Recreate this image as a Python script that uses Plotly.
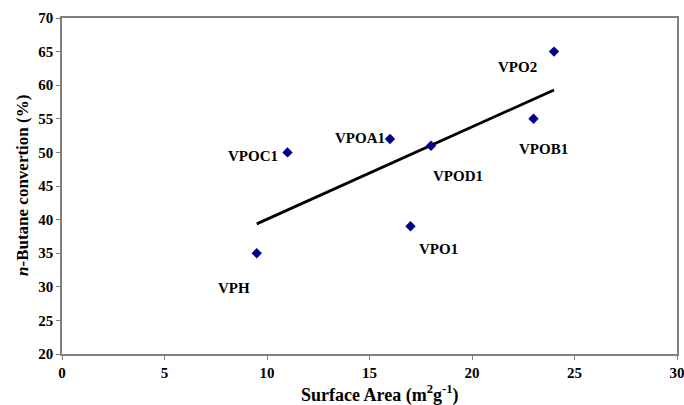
import numpy as np
import plotly.graph_objects as go

samples = ["VPH", "VPOC1", "VPOA1", "VPOD1", "VPO1", "VPOB1", "VPO2"]
surface_area = [9.5, 11, 16, 18, 17, 23, 24]
conversion = [35, 50, 52, 51, 39, 55, 65]

x_ticks = [0, 5, 10, 15, 20, 25, 30]
y_ticks = [20, 25, 30, 35, 40, 45, 50, 55, 60, 65, 70]

# label placement offsets (pixels) per sample
label_style = {
    "VPH": dict(xanchor="right", xshift=-5, yshift=-35),
    "VPOC1": dict(xanchor="right", xshift=-8, yshift=-4),
    "VPOA1": dict(xanchor="right", xshift=-3, yshift=1),
    "VPOD1": dict(xanchor="left", xshift=0, yshift=-30),
    "VPO1": dict(xanchor="left", xshift=6, yshift=-23),
    "VPOB1": dict(xanchor="left", xshift=-17, yshift=-30),
    "VPO2": dict(xanchor="right", xshift=-15, yshift=-15),
}

slope, intercept = np.polyfit(surface_area, conversion, 1)
xfit = [min(surface_area), max(surface_area)]
yfit = [slope * v + intercept for v in xfit]

font_family = "Liberation Serif"
bold_font = dict(family=font_family, size=15, color="black", weight="bold")

fig = go.Figure()
fig.add_trace(go.Scatter(x=xfit, y=yfit, mode="lines",
                         line=dict(color="black", width=2.8), showlegend=False, hoverinfo="skip"))
fig.add_trace(go.Scatter(x=surface_area, y=conversion, mode="markers",
                         marker=dict(symbol="diamond", size=8, color="#000088"),
                         showlegend=False))

for name, xv, yv in zip(samples, surface_area, conversion):
    st = label_style[name]
    fig.add_annotation(x=xv, y=yv, text=name, showarrow=False,
                       xanchor=st["xanchor"], yanchor="middle",
                       xshift=st["xshift"], yshift=st["yshift"],
                       font=dict(family=font_family, size=15, color="black", weight="bold"))

# axis titles
fig.add_annotation(xref="paper", yref="paper", x=0.5, y=0, yshift=-40, xshift=10,
                   xanchor="center", yanchor="middle", showarrow=False,
                   text="Surface Area (m<sup>2</sup>g<sup>-1</sup>)",
                   font=dict(family=font_family, size=18, color="black", weight="bold"))
fig.add_annotation(xref="paper", yref="paper", x=0, y=0.5, xshift=-40, xanchor="center",
                   yanchor="middle", showarrow=False, textangle=-90,
                   text="<i>n</i>-Butane convertion (%)",
                   font=dict(family=font_family, size=17, color="black", weight="bold"))

axis_common = dict(showgrid=False, zeroline=False, showline=True, linecolor="#808080",
                   linewidth=1.5, mirror=True, ticks="outside", ticklen=4, tickcolor="#808080",
                   automargin=False, tickfont=bold_font, ticklabeloverflow="allow")

fig.update_xaxes(range=[0, 30], tickvals=x_ticks,
                 ticktext=["<b>%d</b>" % v for v in x_ticks], **axis_common)
fig.update_yaxes(range=[20, 70], tickvals=y_ticks,
                 ticktext=["<b>%d</b>" % v for v in y_ticks], **axis_common)

fig.update_layout(width=684, height=405, margin=dict(l=62, r=7, t=18, b=51),
                  plot_bgcolor="white", paper_bgcolor="white")

fig.write_html("out.html", config={"displayModeBar": False},
               post_script="document.body.style.margin='0';")
